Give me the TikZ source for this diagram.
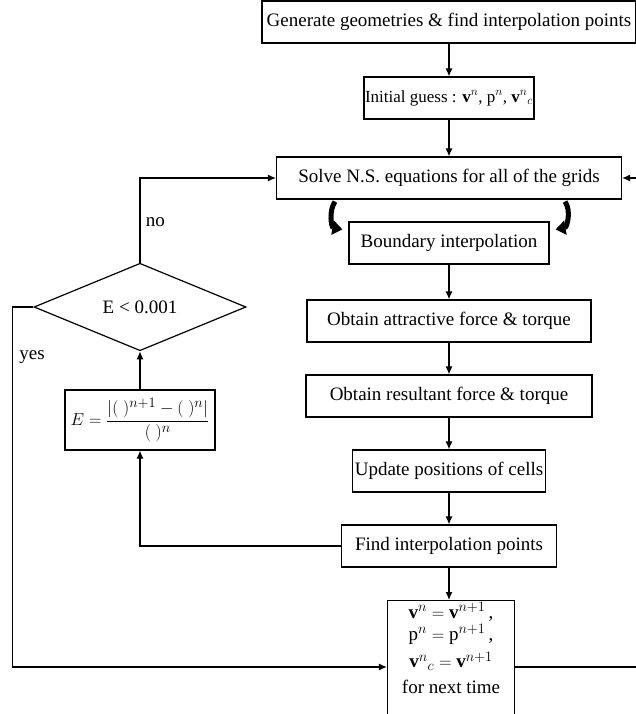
\documentclass[tikz,border=0pt]{standalone}
\usepackage{fontspec}
\setmainfont{Liberation Serif}
\usepackage{amsmath}
\usetikzlibrary{arrows.meta,positioning,shapes.geometric,calc}
\tikzset{
  stepbox/.style={draw,line width=1.2pt,rectangle,inner sep=2pt,minimum height=42pt,font=\fontsize{19}{21}\selectfont},
  % decision diamond
  decide/.style={draw,line width=1.2pt,diamond,inner sep=0pt,font=\fontsize{19}{21}\selectfont},
  % flow arrows
  flow/.style={line width=1.2pt,-{Latex[length=8pt,width=7pt]}},
  % boundary exchange arrows
  swirl/.style={line width=5pt,-{Triangle[length=10pt,width=14pt]}},
  lbl/.style={font=\fontsize{19}{21}\selectfont},
}
\begin{document}
\begin{tikzpicture}[x=1pt,y=-1pt]
\useasboundingbox (0,0) rectangle (636,714);

%% main column
\node[stepbox,minimum width=140pt,inner xsep=1pt,font=\fontsize{17}{19}\selectfont] (init) at (449,98)
  {Initial guess : $\mathbf{v}^{n}$, $\mathrm{p}^{n}$, ${\mathbf{v}^{n}}_{c}$};
\node[stepbox,minimum width=374pt] (gen) at (449,22) {Generate geometries \& find interpolation points};
\node[stepbox,minimum width=345pt] (solve) at (449,178) {Solve N.S. equations for all of the grids};
\node[stepbox,minimum width=200pt] (bnd) at (449,243) {Boundary interpolation};
\node[stepbox,minimum width=284pt] (attr) at (449,321) {Obtain attractive force \& torque};
\node[stepbox,minimum width=286pt] (res) at (449,396) {Obtain resultant force \& torque};
\node[stepbox,minimum width=190pt] (upd) at (449,471) {Update positions of cells};
\node[stepbox,minimum width=215pt] (find) at (449,546) {Find interpolation points};
\node[stepbox,minimum width=127pt,minimum height=0pt,inner ysep=2pt,anchor=north,align=center,text depth=124pt] (next) at (451,600)
  {\begin{tabular}[t]{@{}c@{}}$\mathbf{v}^{n}=\mathbf{v}^{n+1}$\,,\\[0pt] $\mathrm{p}^{n}=\mathrm{p}^{n+1}$\,,\\[6pt] ${\mathbf{v}^{n}}_{c}=\mathbf{v}^{n+1}$\\[5pt] for next time\end{tabular}};
\coordinate (nextin) at ([yshift=-67pt]next.north west);
\coordinate (nextout) at ([yshift=-67pt]next.north east);

%% convergence check (left column)
\node[decide,minimum width=212pt,minimum height=52pt] (dia) at (140,307) {E < 0.001};
\node[stepbox,minimum width=150pt,minimum height=60pt] (err) at (140,420)
  {$E=\dfrac{|(\;)^{n+1}-(\;)^{n}|}{(\;)^{n}}$};

% off-page column on the right
\coordinate (edge) at (642,0);

%% arrows
\draw[flow] (gen) -- (init);
\draw[flow] (init) -- (solve);
\draw[flow] (bnd) -- (attr);
\draw[flow] (attr) -- (res);
\draw[flow] (res) -- (upd);
\draw[flow] (upd) -- (find);
\draw[flow] (find) -- (find |- next.north);
\draw[flow] (find.west) -| (err.south);
\draw[flow] (err.north) -- (dia.south);
\draw[flow] (dia.north) |- node[lbl,pos=0.24,right=2pt]{no} (solve.west);
\draw[flow] (dia.west) -- ++(-21,0) |- node[lbl,pos=0.07,right=3pt]{yes} (nextin);
\draw[flow] (nextout) -- (edge |- nextout) |- (solve.east);

%% solve <-> boundary
\draw[swirl] ($(solve.south)+(-114,2)$) to[out=235,in=170] ($(bnd.north west)+(-6,8)$);
\draw[swirl] ($(solve.south)+(116,2)$) to[out=-55,in=10] ($(bnd.north east)+(6,8)$);
\end{tikzpicture}
\end{document}
